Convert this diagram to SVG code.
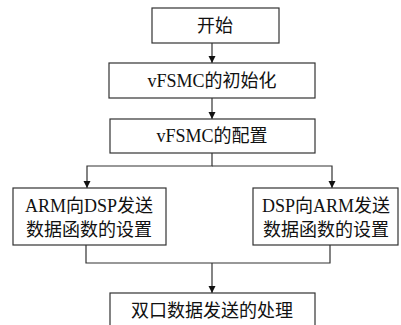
<svg xmlns="http://www.w3.org/2000/svg" width="401" height="325" viewBox="0 0 401 325">
<style>
.box{fill:#fff;stroke:#333;stroke-width:1.2}
.t{font-family:"Liberation Serif","Noto Sans CJK SC",serif;font-size:18px;fill:#111;text-anchor:middle;dominant-baseline:central}
.ln{fill:none;stroke:#333;stroke-width:1.2}
</style>
<defs>
<marker id="ah" viewBox="0 0 10 10" refX="10" refY="5" markerWidth="7" markerHeight="9" markerUnits="userSpaceOnUse" orient="auto">
<path d="M0,0 L10,5 L0,10 Z" fill="#111"/>
</marker>
</defs>
<g id="connectors">
<path class="ln" d="M212,43 V63" marker-end="url(#ah)"/>
<path class="ln" d="M212,98 V119" marker-end="url(#ah)"/>
<path class="ln" d="M212,153 V166 H87 V188" marker-end="url(#ah)"/>
<path class="ln" d="M212,166 H332 V188" marker-end="url(#ah)"/>
<path class="ln" d="M86,245 V263 H330 V245"/>
<path class="ln" d="M212,263 V293" marker-end="url(#ah)"/>
</g>
<g id="start">
<rect class="box" x="152" y="8" width="127" height="35"/>
<text class="t" x="215" y="26">开始</text>
</g>
<g id="init">
<rect class="box" x="109" y="63" width="206" height="35"/>
<text class="t" x="212" y="81">vFSMC的初始化</text>
</g>
<g id="config">
<rect class="box" x="110" y="119" width="205" height="34"/>
<text class="t" x="212" y="136">vFSMC的配置</text>
</g>
<g id="arm2dsp">
<rect class="box" x="13" y="188" width="153" height="57"/>
<text class="t" x="89" y="206">ARM向DSP发送</text>
<text class="t" x="89" y="230">数据函数的设置</text>
</g>
<g id="dsp2arm">
<rect class="box" x="253" y="188" width="145" height="57"/>
<text class="t" x="326" y="206">DSP向ARM发送</text>
<text class="t" x="326" y="230">数据函数的设置</text>
</g>
<g id="dual">
<rect class="box" x="110" y="293" width="205" height="40"/>
<text class="t" x="212" y="311">双口数据发送的处理</text>
</g>
</svg>
